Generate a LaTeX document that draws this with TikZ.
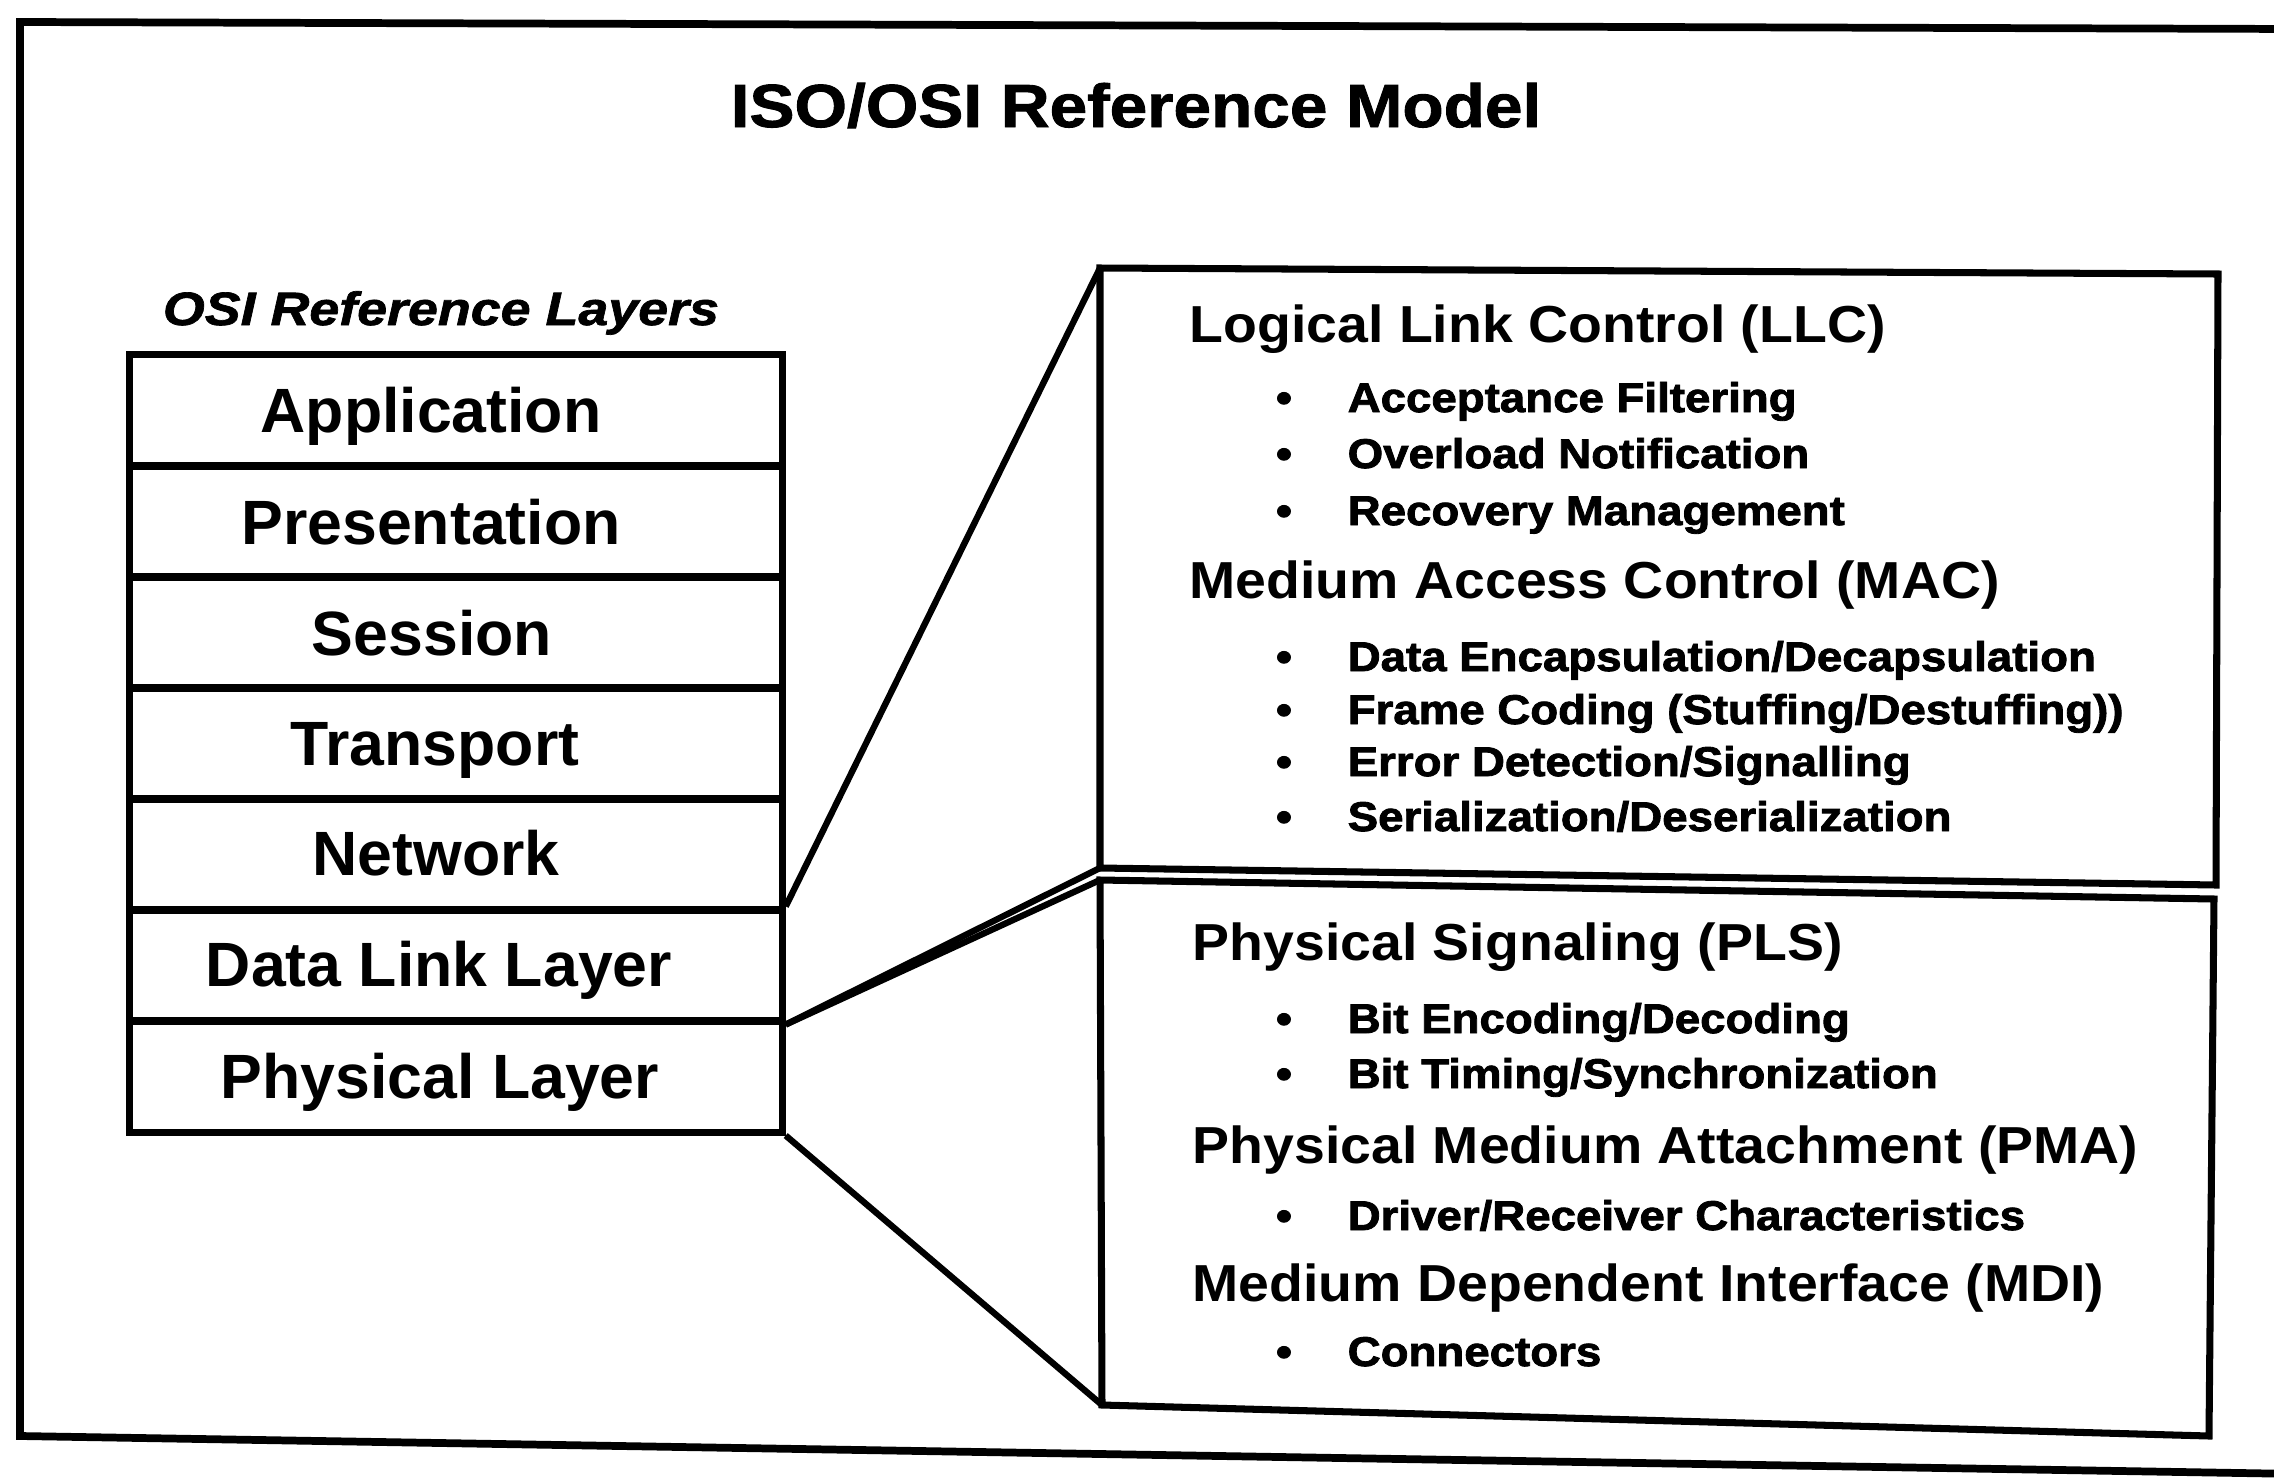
\documentclass[tikz,border=0pt]{standalone}
\usepackage{fontspec}
\setmainfont{Liberation Sans}
\newfontfamily\ttlfont[FakeStretch=1.11,FakeBold=1.5]{Liberation Sans Bold}
\newfontfamily\subfont[FakeStretch=1.15,FakeBold=1.5]{Liberation Sans Bold Italic}
\newfontfamily\hdfont[FakeStretch=1.065]{Liberation Sans Bold}
\newfontfamily\itfont[FakeStretch=1.1,FakeBold=2]{Liberation Sans Bold}
\newfontfamily\stfont{Liberation Sans Bold}
\begin{document}
\begin{tikzpicture}[x=0.01cm,y=-0.01cm,line join=miter]
\tikzset{
 frame/.style={line width=2.2pt},
 boxline/.style={line width=2pt},
 layer/.style={draw,line width=2pt,minimum width=6.52cm,minimum height=1.11cm,inner sep=0pt},
 layerlbl/.style={anchor=base,inner sep=0pt,font=\stfont\fontsize{17.8}{20}\selectfont},
 hd/.style={anchor=base west,inner sep=0pt,font=\hdfont\fontsize{14.8}{18}\selectfont},
 itm/.style={anchor=base west,inner sep=0pt,font=\itfont\fontsize{11.8}{14}\selectfont},
 bul/.style={anchor=base,inner sep=0pt,font=\itfont\fontsize{11.8}{14}\selectfont},
 link/.style={line width=1.8pt},
}
\path[use as bounding box] (0,0) rectangle (2274,1481);
\begin{scope}
\clip (0,0) rectangle (2274,1481);
\draw[frame] (2300,29) -- (20,22) -- (20,1436) -- (2300,1474);
\end{scope}

% title
\node[anchor=base,inner sep=0pt,font=\ttlfont\fontsize{17.3}{20}\selectfont] (title) at (1136,127) {ISO/OSI Reference Model};
\node[anchor=base,inner sep=0pt,font=\subfont\fontsize{13.3}{16}\selectfont] (sub) at (441,325) {OSI Reference Layers};

% stack
\node[layer] (app) at (456,410.5) {};
\node[layer] (pre) at (456,521.5) {};
\node[layer] (ses) at (456,632.5) {};
\node[layer] (tra) at (456,743.5) {};
\node[layer] (net) at (456,854.5) {};
\node[layer] (dl)  at (456,965.5) {};
\node[layer] (phy) at (456,1076.5) {};
\node[layerlbl] (appl) at (431,432) {Application};
\node[layerlbl] (prel) at (431,544) {Presentation};
\node[layerlbl] (sesl) at (432,655) {Session};
\node[layerlbl] (tral) at (435,765) {Transport};
\node[layerlbl] (netl) at (436,875) {Network};
\node[layerlbl] (dll)  at (439,986) {Data Link Layer};
\node[layerlbl] (phyl) at (440,1098) {Physical Layer};

% right boxes
\coordinate (unw) at (1100,268);
\coordinate (une) at (2218,274);
\coordinate (use) at (2216,885);
\coordinate (usw) at (1100,868);
\coordinate (lnw) at (1100,880);
\coordinate (lne) at (2214,899);
\coordinate (lse) at (2209,1436);
\coordinate (lsw) at (1102,1405);
\draw[boxline] (unw) -- (une) -- (use) -- (usw) -- cycle;
\draw[boxline] (lnw) -- (lne) -- (lse) -- (lsw) -- cycle;

% connectors
\draw[link] (dl.north east) -- (unw);
\draw[link] (dl.south east) -- (usw);
\draw[link] (dl.south east) -- (lnw);
\draw[link] (phy.south east) -- (lsw);

% upper box text
\node[hd] (llc) at (1189,342) {Logical Link Control (LLC)};
\node[bul] (b1) at (1284,412) {•}; \node[itm] (i1) at (1347,412) {Acceptance Filtering};
\node[bul] (b2) at (1284,468) {•}; \node[itm] (i2) at (1347,468) {Overload Notification};
\node[bul] (b3) at (1284,525) {•}; \node[itm] (i3) at (1347,525) {Recovery Management};
\node[hd] (mac) at (1189,598) {Medium Access Control (MAC)};
\node[bul] (b4) at (1284,671) {•}; \node[itm] (i4) at (1347,671) {Data Encapsulation/Decapsulation};
\node[bul] (b5) at (1284,724) {•}; \node[itm] (i5) at (1347,724) {Frame Coding (Stuffing/Destuffing))};
\node[bul] (b6) at (1284,776) {•}; \node[itm] (i6) at (1347,776) {Error Detection/Signalling};
\node[bul] (b7) at (1284,831) {•}; \node[itm] (i7) at (1347,831) {Serialization/Deserialization};

% lower box text
\node[hd] (pls) at (1192,960) {Physical Signaling (PLS)};
\node[bul] (b8) at (1284,1033) {•}; \node[itm] (i8) at (1347,1033) {Bit Encoding/Decoding};
\node[bul] (b9) at (1284,1088) {•}; \node[itm] (i9) at (1347,1088) {Bit Timing/Synchronization};
\node[hd] (pma) at (1192,1163) {Physical Medium Attachment (PMA)};
\node[bul] (b10) at (1284,1230) {•}; \node[itm] (i10) at (1347,1230) {Driver/Receiver Characteristics};
\node[hd] (mdi) at (1192,1301) {Medium Dependent Interface (MDI)};
\node[bul] (b11) at (1284,1366) {•}; \node[itm] (i11) at (1347,1366) {Connectors};
\end{tikzpicture}
\end{document}
